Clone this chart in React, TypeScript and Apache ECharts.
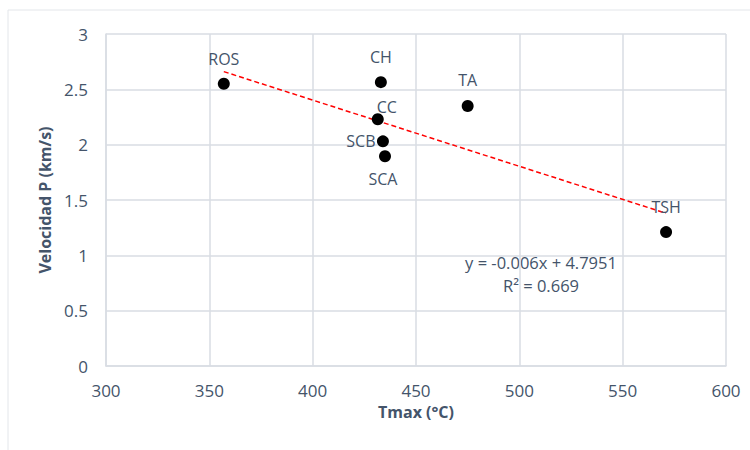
import React, { useEffect, useRef } from "react";
import * as echarts from "echarts";

const names = ["ROS", "CH", "TA", "CC", "SCB", "SCA", "TSH"];
const tmax = [357, 433, 475, 431.5, 434, 435, 571];
const velP = [2.55, 2.565, 2.35, 2.23, 2.03, 1.895, 1.21];
const labelOffsets: [number, number][] = [
  [0, -25],
  [0, -25.5],
  [0, -25.5],
  [9, -12.5],
  [-22, 0],
  [-2, 22.5],
  [0, -25],
];
const trendX = [357, 571];
const trendY = [2.66, 1.38];
const equationLines = ["y = -0.006x + 4.7951", "R² = 0.669"];

const FONT = "'Open Sans', 'Noto Sans', sans-serif";
const TEXT = "#44546A";
const GRID = "#D9DDE3";

export default function App() {
  const ref = useRef<HTMLDivElement>(null);
  useEffect(() => {
    if (!ref.current) return;
    const chart = echarts.init(ref.current, null, { renderer: "svg" });
    const pts = names.map((n, i) => ({
      value: [tmax[i], velP[i]],
      name: n,
      label: { offset: labelOffsets[i] },
    }));
    chart.setOption({
      animation: false,
      backgroundColor: "#ffffff",
      textStyle: { fontFamily: FONT },
      grid: { left: 106, right: 24, top: 34, bottom: 84 },
      graphic: [
        {
          type: "rect",
          shape: { x: 8, y: 10, width: 760, height: 460 },
          style: { fill: "none", stroke: "#E3E6EA", lineWidth: 1 },
          silent: true,
        },
        {
          type: "text",
          x: 541,
          y: 262,
          style: {
            text: equationLines[0],
            fontFamily: FONT,
            fontSize: 16.5,
            fill: TEXT,
            align: "center",
            verticalAlign: "middle",
          },
        },
        {
          type: "text",
          x: 541,
          y: 285,
          style: {
            text: equationLines[1],
            fontFamily: FONT,
            fontSize: 16.5,
            fill: TEXT,
            align: "center",
            verticalAlign: "middle",
          },
        },
      ],
      xAxis: {
        type: "value",
        min: 300,
        max: 600,
        interval: 50,
        name: "Tmax (°C)",
        nameLocation: "middle",
        nameGap: 35,
        nameTextStyle: { fontFamily: FONT, fontSize: 16, fontWeight: "bold", color: TEXT },
        axisLine: { show: true, lineStyle: { color: GRID, width: 1.5 } },
        axisTick: { show: false },
        axisLabel: { fontFamily: FONT, fontSize: 17, color: TEXT, margin: 16 },
        splitLine: { show: true, lineStyle: { color: GRID, width: 1.5 } },
      },
      yAxis: {
        type: "value",
        min: 0,
        max: 3,
        interval: 0.5,
        name: "Velocidad P (km/s)",
        nameLocation: "middle",
        nameGap: 50,
        nameTextStyle: { fontFamily: FONT, fontSize: 16, fontWeight: "bold", color: TEXT },
        axisLine: { show: true, lineStyle: { color: GRID, width: 1.5 } },
        axisTick: { show: false },
        axisLabel: { fontFamily: FONT, fontSize: 17, color: TEXT, margin: 18 },
        splitLine: { show: true, lineStyle: { color: GRID, width: 1.5 } },
      },
      series: [
        {
          type: "line",
          data: trendX.map((x, i) => [x, trendY[i]]),
          showSymbol: false,
          symbol: "none",
          lineStyle: { color: "#FF0000", width: 1.5, type: [5, 3] },
          z: 3,
          silent: true,
        },
        {
          type: "scatter",
          data: pts,
          symbol: "circle",
          symbolSize: 12,
          itemStyle: { color: "#000000", opacity: 1 },
          z: 4,
          label: {
            show: true,
            position: "inside",
            formatter: (p: any) => p.name,
            fontFamily: FONT,
            fontSize: 16,
            color: TEXT,
            align: "center",
            verticalAlign: "middle",
          },
        },
      ],
    });
    return () => chart.dispose();
  }, []);
  return (
    <div
      ref={ref}
      style={{ position: "fixed", left: 0, top: 0, width: 750, height: 450, background: "#fff" }}
    />
  );
}
